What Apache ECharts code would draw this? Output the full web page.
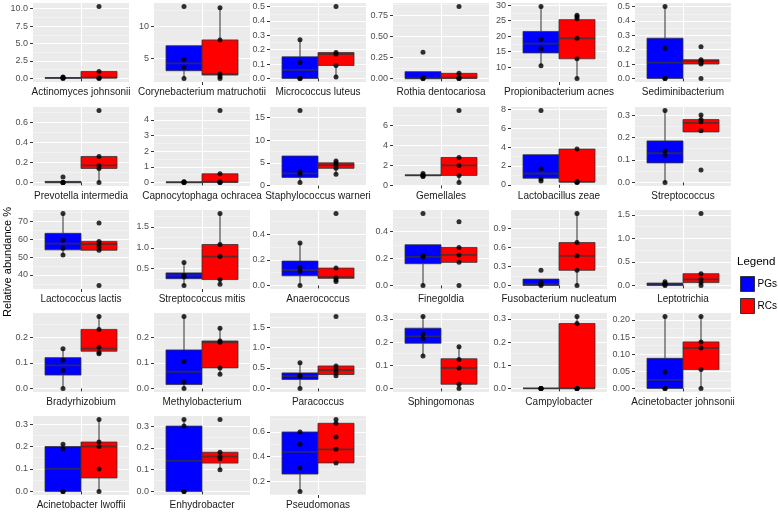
<!DOCTYPE html>
<html>
<head>
<meta charset="utf-8">
<script src="https://cdn.jsdelivr.net/npm/echarts@6/dist/echarts.min.js"></script>
<style>
html, body { margin: 0; padding: 0; background: #fff; }
#main { width: 778px; height: 532px; }
</style>
</head>
<body>
<div id="main"></div>
<script>
// one entry per panel, in reading order
var species = [
    'Actinomyces johnsonii', 'Corynebacterium matruchotii', 'Micrococcus luteus', 'Rothia dentocariosa', 'Propionibacterium acnes', 'Sediminibacterium',
    'Prevotella intermedia', 'Capnocytophaga ochracea', 'Staphylococcus warneri', 'Gemellales', 'Lactobacillus zeae', 'Streptococcus',
    'Lactococcus lactis', 'Streptococcus mitis', 'Anaerococcus', 'Finegoldia', 'Fusobacterium nucleatum', 'Leptotrichia',
    'Bradyrhizobium', 'Methylobacterium', 'Paracoccus', 'Sphingomonas', 'Campylobacter', 'Acinetobacter johnsonii',
    'Acinetobacter lwoffii', 'Enhydrobacter', 'Pseudomonas'
];

// y tick labels of each panel
var yTicks = [
    ['0.0', '2.5', '5.0', '7.5', '10.0'], ['5', '10'], ['0.0', '0.1', '0.2', '0.3', '0.4', '0.5'], ['0.00', '0.25', '0.50', '0.75'], ['10', '15', '20', '25', '30'], ['0.0', '0.1', '0.2', '0.3', '0.4', '0.5'],
    ['0.0', '0.2', '0.4', '0.6'], ['0', '1', '2', '3', '4'], ['0', '5', '10', '15'], ['0', '2', '4', '6'], ['0', '2', '4', '6', '8'], ['0.0', '0.1', '0.2', '0.3'],
    ['40', '50', '60', '70'], ['0.5', '1.0', '1.5'], ['0.0', '0.2', '0.4'], ['0.0', '0.2', '0.4'], ['0.0', '0.3', '0.6', '0.9'], ['0.0', '0.5', '1.0', '1.5'],
    ['0.0', '0.1', '0.2'], ['0.0', '0.1', '0.2'], ['0.0', '0.5', '1.0', '1.5'], ['0.0', '0.1', '0.2', '0.3'], ['0.0', '0.1', '0.2', '0.3'], ['0.00', '0.05', '0.10', '0.15', '0.20'],
    ['0.0', '0.1', '0.2', '0.3'], ['0.0', '0.1', '0.2', '0.3'], ['0.2', '0.4', '0.6']
];

// box stats: [lower whisker, q1, median, q3, upper whisker]
var pgBox = [
    [0, 0.02, 0.08, 0.12, 0.2], [1.9, 3.1, 4.25, 7.0, 7.0], [0, 0, 0.06, 0.15, 0.27], [0, 0, 0, 0.08, 0.08], [10.5, 14.6, 17.6, 21.5, 29.5], [0, 0, 0.11, 0.28, 0.5],
    [0, 0, 0, 0.01, 0.01], [0, 0, 0.01, 0.02, 0.05], [0.7, 1.8, 2.7, 6.5, 6.5], [0.9, 1.0, 1.0, 1.05, 1.2], [0.4, 0.7, 1.2, 3.2, 3.2], [0, 0.087, 0.13, 0.185, 0.32],
    [51.1, 54, 57.5, 63.2, 74.2], [0.1, 0.26, 0.34, 0.4, 0.65], [0, 0.075, 0.12, 0.19, 0.33], [0, 0.16, 0.21, 0.3, 0.3], [0, 0, 0.02, 0.1, 0.1], [0, 0, 0.03, 0.05, 0.08],
    [0, 0.052, 0.09, 0.12, 0.155], [0, 0.015, 0.065, 0.15, 0.28], [0, 0.22, 0.3, 0.38, 0.63], [0.14, 0.195, 0.225, 0.26, 0.31], [0, 0, 0, 0, 0], [0, 0, 0.025, 0.088, 0.21],
    [0, 0, 0.1, 0.2, 0.21], [0, 0, 0.14, 0.3, 0.33], [0.12, 0.26, 0.44, 0.6, 0.6]
];
var rcBox = [
    [0, 0.05, 0.1, 1.0, 1.0], [1.9, 2.45, 2.55, 7.9, 12.9], [0.01, 0.09, 0.17, 0.18, 0.18], [0, 0, 0.01, 0.06, 0.06], [6.4, 12.7, 19.3, 25.3, 26.7], [0.1, 0.1, 0.12, 0.13, 0.13],
    [0, 0.14, 0.17, 0.26, 0.26], [0, 0, 0.05, 0.55, 0.55], [2.5, 3.8, 4.5, 5.0, 5.4], [0.3, 1.0, 2.0, 2.8, 2.8], [0.3, 0.3, 0.3, 3.8, 3.8], [0.225, 0.225, 0.265, 0.28, 0.3],
    [53.8, 53.8, 57.2, 58.7, 58.7], [0.13, 0.24, 0.79, 1.08, 1.82], [0.03, 0.055, 0.065, 0.135, 0.135], [0.17, 0.17, 0.225, 0.28, 0.28], [0, 0.24, 0.47, 0.68, 1.14], [0, 0.06, 0.13, 0.25, 0.25],
    [0.135, 0.145, 0.155, 0.23, 0.28], [0.055, 0.08, 0.18, 0.185, 0.235], [0.31, 0.34, 0.45, 0.55, 0.55], [0, 0.018, 0.088, 0.128, 0.18], [0, 0, 0, 0.28, 0.31], [0, 0.055, 0.118, 0.136, 0.21],
    [0, 0.06, 0.2, 0.22, 0.32], [0.1, 0.13, 0.16, 0.18, 0.18], [0.35, 0.35, 0.46, 0.67, 0.7]
];

// sample values
var pgPoints = [
    [0.2, 0.12, 0.05, 0], [13.1, 4.9, 3.6, 1.9], [0.27, 0.11, 0, 0], [0.31, 0.01, 0, 0], [29.5, 19.0, 15.9, 10.5], [0.5, 0.21, 0, 0],
    [0.055, 0, 0, 0], [0.05, 0.02, 0, 0], [16.5, 3.0, 2.5, 0.7], [1.2, 1.05, 0.95, 0.9], [7.9, 1.7, 0.6, 0.4], [0.32, 0.14, 0.12, 0],
    [74.2, 59.4, 54.9, 51.1], [0.65, 0.34, 0.3, 0.1], [0.33, 0.14, 0.11, 0], [0.53, 0.22, 0.21, 0], [0.24, 0.05, 0.02, 0], [0.08, 0.04, 0.02, 0],
    [0.155, 0.11, 0.07, 0], [0.28, 0.105, 0.025, 0], [0.63, 0.31, 0.3, 0], [0.31, 0.235, 0.215, 0.14], [0, 0, 0, 0], [0.21, 0.047, 0, 0],
    [0.21, 0.19, 0, 0], [0.33, 0.3, 0, 0], [0.6, 0.5, 0.31, 0.12]
];
var rcPoints = [
    [10.3, 1.0, 0.1, 0.05, 0], [12.9, 7.9, 2.6, 2.2, 1.9], [0.5, 0.18, 0.17, 0.09, 0.01], [0.85, 0.06, 0.01, 0, 0], [26.7, 26.2, 25.6, 19.3, 12.7, 6.4], [0.22, 0.13, 0.12, 0.11, 0.1, 0],
    [0.72, 0.26, 0.17, 0.14, 0], [4.6, 0.55, 0.05, 0, 0], [5.4, 5.0, 4.5, 3.8, 2.5], [7.5, 2.8, 2.0, 1.0, 0.3], [3.8, 0.35, 0.3, 0.3, 0.25], [0.3, 0.28, 0.27, 0.23, 0.055],
    [69, 58.7, 57.2, 55.5, 53.8, 34.2], [1.82, 1.08, 0.79, 0.24, 0.13], [0.56, 0.135, 0.06, 0.045, 0.03], [0.47, 0.28, 0.225, 0.17, 0], [1.14, 0.68, 0.47, 0.24, 0], [1.53, 0.25, 0.13, 0.06, 0],
    [0.28, 0.23, 0.16, 0.14, 0.135], [0.235, 0.185, 0.18, 0.08, 0.055], [1.76, 0.55, 0.48, 0.4, 0.31], [0.18, 0.125, 0.088, 0.018, 0], [0.31, 0.28, 0, 0, 0], [0.21, 0.136, 0.118, 0.055, 0],
    [0.32, 0.22, 0.2, 0.1, 0], [0.33, 0.18, 0.16, 0.15, 0.1], [0.7, 0.67, 0.56, 0.46, 0.35]
];

var groups = ['PGs', 'RCs'];
var groupColors = ['#0000FF', '#FF0000'];
var groupX = [0.775, 1.225];   // dodged positions
var BOX_W = 0.45;

var colLeft = [33, 154, 270, 393, 511, 635];
var rowTop = [3, 107, 210, 313, 416];
var PANEL_W = 96, PANEL_H = 79;
var FONT = '"Liberation Sans", Arial, sans-serif';

function drawBox(params, api) {
    var x = api.value(0);
    var lo = api.coord([x, api.value(1)]);
    var q1 = api.coord([x, api.value(2)]);
    var md = api.coord([x, api.value(3)]);
    var q3 = api.coord([x, api.value(4)]);
    var hi = api.coord([x, api.value(5)]);
    var half = api.size([BOX_W, 0])[0] / 2;
    var edge = '#333333';
    return {
        type: 'group',
        children: [
            { type: 'line', shape: { x1: lo[0], y1: lo[1], x2: q1[0], y2: q1[1] }, style: { stroke: edge, lineWidth: 1 } },
            { type: 'line', shape: { x1: q3[0], y1: q3[1], x2: hi[0], y2: hi[1] }, style: { stroke: edge, lineWidth: 1 } },
            { type: 'rect', shape: { x: q1[0] - half, y: q3[1], width: half * 2, height: q1[1] - q3[1] },
              style: { fill: api.visual('color'), stroke: edge, lineWidth: 0.8 } },
            { type: 'line', shape: { x1: md[0] - half, y1: md[1], x2: md[0] + half, y2: md[1] },
              style: { stroke: edge, lineWidth: 1.8, opacity: 0.75 } }
        ]
    };
}

var grids = [], xAxes = [], yAxes = [], series = [];

species.forEach(function (name, i) {
    var row = Math.floor(i / 6), col = i % 6;
    var all = pgBox[i].concat(rcBox[i], pgPoints[i], rcPoints[i]);
    var lo = Math.min.apply(null, all), hi = Math.max.apply(null, all);
    var pad = (hi - lo) * 0.05;
    var yMin = lo - pad, yMax = hi + pad;

    var tickVals = yTicks[i].map(Number);
    var step = tickVals[1] - tickVals[0];
    var minorVals = [];
    for (var k = -20; k < 40; k++) {
        var v = tickVals[0] + (k + 0.5) * step;
        if (v > yMin && v < yMax) minorVals.push(v);
    }

    grids.push({
        left: colLeft[col], top: rowTop[row], width: PANEL_W, height: PANEL_H,
        show: true, backgroundColor: '#EBEBEB', borderWidth: 0, containLabel: false, outerBoundsMode: 'none'
    });

    xAxes.push({
        type: 'value', gridIndex: i, min: 0.4, max: 1.6,
        name: name, nameLocation: 'middle', nameGap: 5,
        nameTextStyle: { fontFamily: FONT, fontSize: 10, color: '#1A1A1A', verticalAlign: 'top' },
        axisLine: { show: false },
        axisTick: { show: true, length: 3, customValues: [1], lineStyle: { color: '#333333' } },
        axisLabel: { show: false, customValues: [1] },
        splitLine: { show: true, lineStyle: { color: '#FFFFFF', width: 1 } }
    });

    // major axis with labels
    yAxes.push({
        type: 'value', gridIndex: i, min: yMin, max: yMax,
        axisLine: { show: false },
        axisTick: { show: true, length: 3, customValues: tickVals, lineStyle: { color: '#333333' } },
        axisLabel: {
            show: true, customValues: tickVals, margin: 5, fontFamily: FONT, fontSize: 9, color: '#4D4D4D',
            formatter: function (v) {
                var best = yTicks[i][0], d = Infinity;
                tickVals.forEach(function (t, j) {
                    if (Math.abs(t - v) < d) { d = Math.abs(t - v); best = yTicks[i][j]; }
                });
                return best;
            }
        },
        splitLine: { show: true, lineStyle: { color: '#FFFFFF', width: 1 } }
    });
    // minor grid lines only
    yAxes.push({
        type: 'value', gridIndex: i, min: yMin, max: yMax,
        axisLine: { show: false },
        axisTick: { show: false, customValues: minorVals },
        axisLabel: { show: false, customValues: minorVals },
        splitLine: { show: true, lineStyle: { color: '#F7F7F7', width: 0.6 } }
    });

    [pgBox[i], rcBox[i]].forEach(function (b, g) {
        series.push({
            type: 'custom', name: groups[g], xAxisIndex: i, yAxisIndex: 2 * i,
            renderItem: drawBox,
            itemStyle: { color: groupColors[g] },
            encode: { x: 0, y: [1, 2, 3, 4, 5] },
            data: [[groupX[g]].concat(b)],
            z: 2
        });
    });

    var pts = [];
    pgPoints[i].forEach(function (v) { pts.push([groupX[0], v]); });
    rcPoints[i].forEach(function (v) { pts.push([groupX[1], v]); });
    series.push({
        type: 'scatter', name: 'samples', xAxisIndex: i, yAxisIndex: 2 * i,
        symbolSize: 5, itemStyle: { color: '#000000' }, data: pts, z: 3
    });
});

var myChart = echarts.init(document.getElementById('main'));
myChart.setOption({
    animation: false,
    backgroundColor: '#FFFFFF',
    grid: grids,
    xAxis: xAxes,
    yAxis: yAxes,
    legend: {
        left: 740, top: 276, orient: 'vertical', padding: 0, itemGap: 6, itemWidth: 14, itemHeight: 15,
        selectedMode: false,
        textStyle: { fontFamily: FONT, fontSize: 10, color: '#000000', padding: [0, 0, 0, -2] },
        data: [
            { name: 'PGs', icon: 'rect', itemStyle: { color: '#0000FF', borderColor: '#333333', borderWidth: 1 } },
            { name: 'RCs', icon: 'rect', itemStyle: { color: '#FF0000', borderColor: '#333333', borderWidth: 1 } }
        ]
    },
    graphic: [
        { type: 'text', left: 737, top: 256, style: { text: 'Legend', fontFamily: FONT, fontSize: 11.5, fill: '#000000' } },
        { type: 'text', x: 8, y: 262, rotation: Math.PI / 2,
          style: { text: 'Relative abundance %', fontFamily: FONT, fontSize: 11, fill: '#000000', align: 'center', verticalAlign: 'middle' } }
    ],
    series: series
});
</script>
</body>
</html>
